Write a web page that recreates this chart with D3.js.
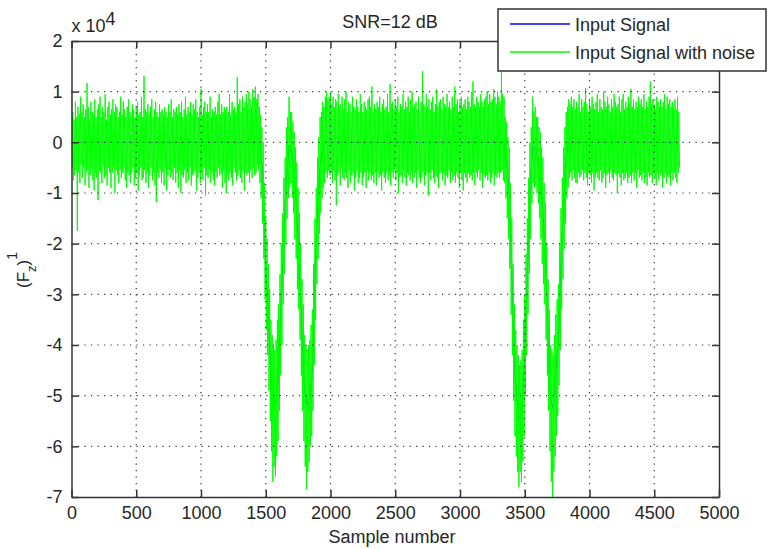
<!DOCTYPE html>
<html>
<head>
<meta charset="utf-8">
<script src="https://cdn.jsdelivr.net/npm/d3@7"></script>
<style>
body { margin: 0; background: #fff; }
text { font-family: "Liberation Sans", Arial, sans-serif; fill: #262626; }
</style>
</head>
<body>
<div id="chart"></div>
<script>
// noisy signal, one value every 5 samples (units of 1e4)
const noisyStep = 5;
const noisySignal = [
    0.95, -0.5, 0.6, -0.75, 0.45, -0.65, 0.8, -0.55, 0.5, -1.75,
    0.7, -0.6, 0.55, -0.8, 0.9, -0.45, 0.6, -0.7, 0.75, -0.5,
    0.5, -0.85, 0.65, -0.6, 1.17, -0.55, 0.7, -0.9, 0.45, -0.65,
    0.8, -0.5, 0.6, -0.75, 0.55, -0.95, 0.85, -0.6, 0.5, -0.7,
    0.65, -1.14, 0.75, -0.55, 0.9, -0.6, 0.5, -0.8, 0.7, -0.45,
    0.6, -0.7, 0.95, -0.65, 0.45, -0.85, 0.7, -0.5, 0.8, -0.6,
    0.55, -0.9, 0.65, -0.6, 0.85, -0.5, 0.6, -1.0, 0.75, -0.55,
    0.7, -0.65, 0.5, -0.8, 0.6, -0.55, 0.9, -0.7, 0.55, -0.6,
    0.8, -0.5, 0.65, -0.75, 0.5, -0.9, 0.7, -0.6, 0.85, -0.65,
    0.6, -0.8, 0.55, -0.6, 0.75, -0.5, 0.65, -0.85, 0.5, -0.7,
    0.7, -0.6, 0.8, -0.95, 0.55, -0.65, 0.6, -0.5, 0.9, -0.75,
    0.5, -0.7, 1.31, -0.55, 0.65, -0.8, 0.6, -0.6, 0.75, -0.9,
    0.55, -0.65, 0.7, -0.5, 0.85, -0.75, 0.5, -0.6, 0.65, -0.85,
    0.8, -1.18, 0.6, -0.6, 0.5, -0.7, 0.75, -0.55, 0.6, -0.8,
    0.65, -0.6, 0.55, -0.85, 0.7, -0.5, 0.6, -0.95, 0.5, -0.65,
    0.75, -0.55, 0.6, -0.7, 0.85, -0.6, 0.5, -0.75, 0.65, -0.5,
    0.6, -0.8, 0.7, -0.6, 0.55, -0.9, 0.75, -0.55, 0.6, -1.0,
    0.8, -0.65, 0.5, -0.7, 0.65, -0.55, 0.9, -0.8, 0.55, -0.6,
    0.7, -0.75, 0.6, -0.5, 0.8, -0.85, 0.55, -0.65, 0.75, -0.6,
    0.65, -0.55, 0.85, -0.95, 0.6, -0.7, 0.5, -0.6, 0.7, -0.8,
    1.05, -0.6, 0.55, -0.75, 0.7, -0.5, 0.8, -1.05, 0.6, -0.65,
    0.75, -0.7, 0.6, -0.55, 0.9, -0.8, 0.5, -0.6, 0.65, -0.75,
    0.6, -0.85, 0.7, -0.6, 0.55, -0.7, 0.8, -0.5, 0.95, -0.65,
    0.55, -0.6, 0.75, -0.9, 0.6, -0.55, 0.7, -0.8, 0.65, -1.0,
    0.7, -0.65, 0.6, -0.75, 0.95, -0.6, 0.55, -0.7, 0.8, -0.85,
    0.65, -0.5, 0.7, -0.6, 0.6, -0.75, 1.28, -0.65, 0.75, -0.55,
    0.85, -0.7, 0.6, -0.8, 0.9, -0.55, 0.7, -0.95, 0.8, -0.6,
    0.95, -0.65, 0.75, -0.6, 1.0, -0.8, 0.85, -0.55, 0.7, -0.7,
    1.05, -0.5, 0.9, -0.65, 1.1, -0.6, 0.85, -0.45, 0.95, -0.55,
    0.7, -0.8, 0.55, -1.1, 0.3, -1.6, 0.0, -2.3, -0.8, -3.1,
    -1.5, -3.7, -1.9, -4.2, -2.4, -4.9, -2.9, -5.5, -3.5, -6.1,
    -3.8, -6.7, -4.0, -6.4, -4.1, -6.6, -3.9, -6.2, -3.5, -5.9,
    -3.2, -5.3, -2.6, -4.6, -2.0, -4.0, -1.4, -3.2, -0.7, -2.6,
    -0.3, -2.0, 0.3, -1.5, 0.5, -1.1, 0.9, -0.9, 0.6, -0.8,
    0.6, -1.1, 0.4, -1.4, 0.2, -1.9, -0.1, -2.3, -0.4, -2.9,
    -0.9, -3.3, -1.4, -3.9, -2.0, -4.6, -2.7, -5.3, -3.2, -5.9,
    -3.8, -6.4, -4.0, -6.85, -4.1, -6.5, -4.0, -6.3, -3.9, -6.0,
    -3.6, -5.8, -3.3, -5.3, -2.4, -4.4, -1.5, -3.5, -0.9, -2.8,
    -0.3, -2.3, 0.1, -1.8, 0.5, -1.4, 0.6, -1.1, 0.8, -0.9,
    0.7, -0.8, 0.9, -0.6, 1.0, -0.7, 0.85, -0.55, 0.9, -0.65,
    1.0, -0.6, 0.75, -0.8, 0.9, -0.55, 0.7, -0.75, 0.85, -1.24,
    0.8, -0.65, 0.95, -0.6, 0.7, -0.85, 0.75, -0.5, 0.9, -0.7,
    0.65, -0.75, 0.85, -0.6, 1.0, -0.7, 0.6, -0.9, 0.8, -0.55,
    0.75, -0.8, 0.6, -0.65, 0.9, -0.6, 0.7, -0.95, 0.65, -0.7,
    0.85, -0.55, 0.7, -0.8, 0.6, -0.7, 0.95, -0.6, 0.75, -0.85,
    0.6, -0.7, 0.8, -0.6, 0.7, -0.9, 0.65, -0.55, 0.85, -0.75,
    0.9, -0.6, 0.7, -0.75, 1.1, -0.65, 0.6, -0.8, 0.75, -0.6,
    0.65, -0.85, 0.8, -0.55, 0.7, -0.7, 0.9, -0.65, 0.6, -0.95,
    0.75, -0.6, 0.85, -0.7, 0.65, -0.8, 0.7, -0.6, 0.95, -0.75,
    0.6, -0.65, 1.15, -0.85, 0.75, -0.6, 0.8, -0.7, 0.65, -0.55,
    0.85, -0.75, 0.7, -0.6, 0.9, -1.0, 0.6, -0.7, 0.75, -0.65,
    0.7, -0.8, 0.95, -0.55, 0.65, -0.7, 0.8, -0.85, 0.7, -0.6,
    0.9, -0.65, 0.6, -0.75, 0.85, -0.6, 1.0, -0.8, 0.7, -0.7,
    0.75, -0.6, 0.8, -0.9, 0.65, -0.55, 0.9, -0.7, 0.6, -0.8,
    0.8, -0.7, 1.4, -0.6, 0.75, -0.85, 0.7, -0.65, 0.95, -0.6,
    0.7, -1.05, 0.85, -0.6, 0.65, -0.75, 0.8, -0.55, 0.9, -0.7,
    0.6, -0.8, 0.75, -0.65, 1.05, -0.7, 0.7, -0.9, 0.8, -0.6,
    0.85, -0.6, 0.65, -0.75, 0.9, -0.6, 0.75, -0.85, 0.7, -0.65,
    0.95, -0.7, 0.7, -0.55, 0.8, -0.8, 0.65, -0.6, 0.9, -0.75,
    0.7, -0.65, 1.1, -0.8, 0.75, -0.6, 0.85, -0.7, 0.6, -0.9,
    0.8, -0.6, 0.9, -0.75, 0.7, -0.95, 0.75, -0.6, 0.85, -0.7,
    0.65, -0.8, 0.9, -0.6, 0.8, -0.7, 0.7, -0.65, 1.0, -0.75,
    1.2, -0.6, 0.75, -0.85, 0.7, -0.6, 0.9, -0.7, 0.8, -0.55,
    0.7, -0.75, 0.95, -0.6, 0.8, -0.9, 0.7, -0.65, 0.85, -0.7,
    0.9, -0.65, 1.0, -0.75, 0.75, -0.6, 0.95, -0.8, 0.8, -0.7,
    0.85, -0.6, 1.05, -0.85, 0.9, -0.65, 0.75, -0.7, 1.0, -0.6,
    0.9, -0.7, 0.8, -0.6, 1.4, -0.55, 0.95, -0.75, 0.9, -0.8,
    0.5, -1.1, 0.4, -1.5, 0.1, -1.9, -0.1, -2.5, -0.8, -3.4,
    -1.5, -4.2, -2.4, -5.1, -3.2, -5.8, -3.7, -6.2, -4.0, -6.5,
    -4.2, -6.8, -4.4, -6.5, -4.3, -6.7, -4.1, -6.3, -3.5, -5.8,
    -3.0, -5.0, -2.2, -4.2, -1.5, -3.4, -0.7, -2.6, 0.0, -1.9,
    0.3, -1.2, 0.9, -0.8, 0.6, -0.9, 0.7, -0.85, 0.5, -1.0,
    0.5, -1.2, 0.3, -1.5, 0.2, -1.9, -0.1, -2.4, -0.3, -2.8,
    -0.8, -3.2, -1.2, -3.9, -2.0, -4.6, -2.7, -5.3, -3.3, -6.1,
    -4.0, -6.7, -4.1, -7.0, -4.2, -6.5, -3.8, -6.2, -3.4, -5.8,
    -3.1, -5.4, -2.8, -4.8, -2.0, -4.1, -1.3, -3.3, -0.7, -2.7,
    -0.1, -2.1, 0.3, -1.6, 0.6, -1.1, 0.7, -0.9, 0.85, -0.7,
    0.75, -0.6, 0.9, -0.75, 0.7, -0.55, 0.85, -0.7, 0.65, -0.8,
    0.8, -0.81, 0.7, -0.6, 0.95, -0.7, 0.6, -0.65, 0.85, -0.55,
    0.7, -0.75, 0.8, -0.6, 1.07, -0.7, 0.75, -0.85, 0.6, -0.6,
    0.85, -0.65, 0.7, -0.8, 0.9, -0.6, 0.75, -0.95, 0.65, -0.7,
    0.8, -0.6, 0.95, -0.7, 0.6, -0.75, 0.85, -0.55, 0.7, -0.8,
    0.65, -0.7, 1.0, -0.6, 0.8, -0.9, 0.7, -0.65, 0.9, -0.6,
    0.75, -0.8, 0.6, -0.55, 0.85, -0.7, 0.7, -0.75, 0.95, -0.6,
    0.8, -0.65, 0.7, -1.0, 0.75, -0.6, 0.9, -0.7, 0.6, -0.85,
    0.85, -0.6, 0.95, -0.75, 0.65, -0.7, 0.8, -0.6, 0.7, -0.8,
    0.9, -0.7, 0.75, -0.65, 1.05, -0.8, 0.7, -0.6, 0.85, -0.75,
    0.65, -0.6, 0.8, -0.9, 0.7, -0.55, 0.9, -0.7, 0.75, -0.65,
    0.85, -0.75, 0.7, -0.6, 0.95, -0.8, 0.65, -0.7, 0.8, -0.85,
    0.7, -0.6, 0.9, -0.7, 1.2, -0.65, 0.75, -0.8, 0.85, -0.6,
    0.75, -0.7, 0.65, -0.85, 0.9, -0.6, 0.8, -0.75, 0.7, -0.65,
    0.85, -0.6, 0.7, -0.9, 0.8, -0.7, 0.95, -0.6, 0.65, -0.8,
    0.9, -0.65, 0.75, -0.7, 0.85, -0.85, 0.7, -0.6, 0.8, -0.75,
    0.7, -0.6, 0.85, -0.7, 0.65, -0.8, 0.9, -0.6, 0.6, -0.5
];

// clean input signal (sample number, value in units of 1e4)
const cleanSample = [0, 1440,
    1460, 1480, 1500, 1520, 1540, 1560, 1580, 1600, 1620, 1640, 1660, 1680, 1700,
    1720, 1740, 1760, 1780, 1800, 1820, 1840, 1860, 1880, 1900, 1920, 1940, 1960,
    3340, 3360, 3380, 3400, 3420, 3440, 3460, 3480, 3500, 3520, 3540, 3560, 3580,
    3600, 3620, 3640, 3660, 3680, 3700, 3720, 3740, 3760, 3780, 3800, 3820, 3840,
    4690];
const cleanSignal = [0, 0,
    -0.1, -0.8, -2.5, -3.3, -4.6, -5.2, -5.1, -4.4, -3.1, -1.8, -0.7, -0.1, -0.2,
    -0.6, -1.4, -2.5, -3.8, -4.9, -5.2, -5.1, -4.5, -2.6, -1.3, -0.5, -0.1, 0,
    0, -0.4, -1.0, -2.6, -4.4, -5.1, -5.5, -5.2, -4.2, -2.6, -1.0, -0.1, -0.1,
    -0.3, -0.6, -1.4, -2.3, -3.8, -5.1, -5.25, -4.5, -3.9, -2.4, -1.2, -0.3, 0,
    0];

const xTicks = [0, 500, 1000, 1500, 2000, 2500, 3000, 3500, 4000, 4500, 5000];
const yTicks = [2, 1, 0, -1, -2, -3, -4, -5, -6, -7];
const legendLabels = ["Input Signal", "Input Signal with noise"];
const legendColors = ["#0000ff", "#00ff00"];

let width = 768, height = 549;
let plotLeft = 71.5, plotRight = 719, plotTop = 41, plotBottom = 497;
let fontSize = 18;

let x = d3.scaleLinear().domain([0, 5000]).range([plotLeft, plotRight]);
let y = d3.scaleLinear().domain([-7, 2]).range([plotBottom, plotTop]);

let svg = d3.select('#chart')
    .append('svg')
    .attr('width', width)
    .attr('height', height);

svg.append('rect')
    .attr('width', width)
    .attr('height', height)
    .attr('fill', '#fff');

svg.append('clipPath')
    .attr('id', 'plotclip')
    .append('rect')
    .attr('x', plotLeft)
    .attr('y', plotTop)
    .attr('width', plotRight - plotLeft)
    .attr('height', plotBottom - plotTop);

let plot = svg.append('g').attr('clip-path', 'url(#plotclip)');

let cleanLine = d3.line()
    .x((d, i) => x(cleanSample[i]))
    .y(d => y(d));

let noisyLine = d3.line()
    .x((d, i) => x(i * noisyStep))
    .y(d => y(d));

plot.append('path')
    .attr('d', cleanLine(cleanSignal))
    .attr('fill', 'none')
    .attr('stroke', legendColors[0])
    .attr('stroke-width', 1.2);

plot.append('path')
    .attr('d', noisyLine(noisySignal))
    .attr('fill', 'none')
    .attr('stroke', legendColors[1])
    .attr('stroke-width', 1);

// dotted grid
let grid = svg.append('g')
    .attr('stroke', '#333')
    .attr('stroke-width', 1.2)
    .attr('stroke-dasharray', '1.2,5.3');

grid.selectAll('.gx')
    .data(xTicks.slice(1, -1))
    .enter()
    .append('line')
    .attr('x1', d => x(d)).attr('x2', d => x(d))
    .attr('y1', plotTop).attr('y2', plotBottom);

grid.selectAll('.gy')
    .data(yTicks.slice(1, -1))
    .enter()
    .append('line')
    .attr('x1', plotLeft).attr('x2', plotRight)
    .attr('y1', d => y(d)).attr('y2', d => y(d));

// axes, ticks pointing inward
function styleAxis(g) {
    g.attr('color', '#333')
        .attr('font-size', fontSize)
        .attr('font-family', '"Liberation Sans", Arial, sans-serif');
    g.selectAll('path, line').attr('stroke-width', 1.5);
    g.selectAll('text').attr('fill', '#262626');
}

svg.append('g')
    .attr('transform', 'translate(0,' + plotBottom + ')')
    .call(d3.axisBottom(x).tickValues(xTicks).tickSize(-7).tickSizeOuter(0).tickPadding(9).tickFormat(d => String(d)))
    .call(styleAxis);

svg.append('g')
    .attr('transform', 'translate(0,' + plotTop + ')')
    .call(d3.axisTop(x).tickValues(xTicks).tickSize(-7).tickSizeOuter(0).tickFormat(''))
    .call(styleAxis);

svg.append('g')
    .attr('transform', 'translate(' + plotLeft + ',0)')
    .call(d3.axisLeft(y).tickValues(yTicks).tickSize(-7).tickSizeOuter(0).tickPadding(9).tickFormat(d => String(d)))
    .call(styleAxis);

svg.append('g')
    .attr('transform', 'translate(' + plotRight + ',0)')
    .call(d3.axisRight(y).tickValues(yTicks).tickSize(-7).tickSizeOuter(0).tickFormat(''))
    .call(styleAxis);

// exponent label
let expo = svg.append('text')
    .attr('x', plotLeft)
    .attr('y', 31.5)
    .attr('font-size', fontSize)
    .text('x 10');
expo.append('tspan')
    .attr('dy', -7)
    .text('4');

// title
svg.append('text')
    .attr('x', 390)
    .attr('y', 28)
    .attr('text-anchor', 'middle')
    .attr('font-size', fontSize)
    .text('SNR=12 dB');

// x label
svg.append('text')
    .attr('x', 392)
    .attr('y', 543)
    .attr('text-anchor', 'middle')
    .attr('font-size', fontSize)
    .text('Sample number');

// y label
let ylab = svg.append('text')
    .attr('transform', 'translate(29,270) rotate(-90)')
    .attr('text-anchor', 'middle')
    .attr('font-size', 17)
    .text('(F');
ylab.append('tspan').attr('dy', 7).attr('font-size', 13).text('z');
ylab.append('tspan').attr('dy', -7).text(')');
ylab.append('tspan').attr('dy', -12).attr('font-size', 14).text('1');

// legend
let legend = svg.append('g');
legend.append('rect')
    .attr('x', 498)
    .attr('y', 9)
    .attr('width', 268)
    .attr('height', 62)
    .attr('fill', '#fff')
    .attr('stroke', '#333')
    .attr('stroke-width', 1.5);

legendLabels.forEach((d, i) => {
    legend.append('line')
        .attr('x1', 510).attr('x2', 570)
        .attr('y1', 24 + i * 28).attr('y2', 24 + i * 28)
        .attr('stroke', legendColors[i])
        .attr('stroke-width', 1.5);
    legend.append('text')
        .attr('x', 575)
        .attr('y', 30.5 + i * 28)
        .attr('font-size', fontSize)
        .text(d);
});
</script>
</body>
</html>
